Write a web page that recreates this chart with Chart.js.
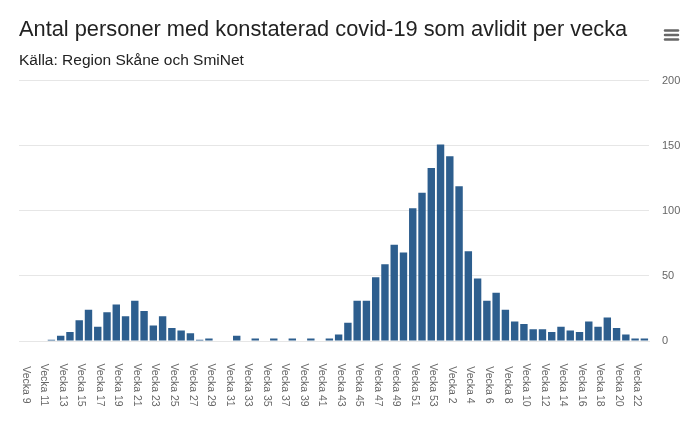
<!DOCTYPE html>
<html>
<head>
<meta charset="utf-8">
<script src="https://cdn.jsdelivr.net/npm/chart.js@4/dist/chart.umd.min.js"></script>
<style>
  body { margin: 0; background: #fff; }
  #wrap { width: 700px; height: 435px; position: relative; }
</style>
</head>
<body>
<div id="wrap"><canvas id="myChart"></canvas></div>
<script>
// veckor 2020 (9-53) och 2021 (1-23)
var weeks = [9, 10, 11, 12, 13, 14, 15, 16, 17, 18, 19, 20, 21, 22, 23, 24, 25, 26, 27, 28,
    29, 30, 31, 32, 33, 34, 35, 36, 37, 38, 39, 40, 41, 42, 43, 44, 45, 46, 47, 48, 49, 50,
    51, 52, 53, 1, 2, 3, 4, 5, 6, 7, 8, 9, 10, 11, 12, 13, 14, 15, 16, 17, 18, 19, 20, 21, 22, 23]

var deaths = [0, 0, 0, 1, 4, 7, 16, 24, 11, 22, 28, 19, 31, 23, 12, 19, 10, 8, 6, 1,
    2, 0, 0, 4, 0, 2, 0, 2, 0, 2, 0, 2, 0, 2, 5, 14, 31, 31, 49, 59, 74, 68,
    102, 114, 133, 151, 142, 119, 69, 48, 31, 37, 24, 15, 13, 9, 9, 7, 11, 8, 7, 15, 11, 18, 10, 5, 2, 2]

var yTicks = [0, 50, 100, 150, 200]

var titleText = "Antal personer med konstaterad covid-19 som avlidit per vecka"
var subtitleText = "Källa: Region Skåne och SmiNet"

var labels = weeks.map(function (w) { return "Vecka " + w })

var font = '"Liberation Sans", Arial, Helvetica, sans-serif'

// rotated category labels (top to bottom), every other week
var xLabels = {
    id: 'xLabels',
    afterDraw: function (chart) {
        var ctx = chart.ctx
        var x = chart.scales.x
        ctx.save()
        ctx.font = '10.5px ' + font
        ctx.fillStyle = '#666666'
        ctx.textAlign = 'center'
        ctx.textBaseline = 'middle'
        labels.forEach(function (l, i) {
            if (i % 2) return
            ctx.save()
            ctx.translate(x.getPixelForTick(i) + 2, chart.chartArea.bottom + 44)
            ctx.rotate(Math.PI / 2)
            ctx.fillText(l, 0, 0)
            ctx.restore()
        })
        ctx.restore()
    }
}

// export menu icon
var menuIcon = {
    id: 'menuIcon',
    afterDraw: function (chart) {
        var ctx = chart.ctx
        ctx.save()
        ctx.strokeStyle = '#666666'
        ctx.lineWidth = 2.5
        ctx.lineCap = 'round'
        ;[30.5, 35, 39.5].forEach(function (y) {
            ctx.beginPath()
            ctx.moveTo(665, y)
            ctx.lineTo(678, y)
            ctx.stroke()
        })
        ctx.restore()
    }
}

var myChart = document.getElementById("myChart").getContext('2d')

var chart = new Chart(myChart, {
    type: 'bar',
    data: {
        labels: labels,
        datasets: [
            {
                label: "Avlidna",
                data: deaths,
                backgroundColor: '#2d5e8e',
                borderWidth: 0,
                barPercentage: 0.8,
                categoryPercentage: 1
            }
        ]
    },
    options: {
        responsive: true,
        maintainAspectRatio: false,
        animation: false,
        layout: { padding: { left: 19, right: 0, top: 0, bottom: 0 } },
        plugins: {
            legend: { display: false },
            tooltip: { enabled: false },
            title: {
                display: true,
                text: titleText,
                align: 'start',
                color: '#222222',
                font: { family: font, size: 21.8, weight: 'normal' },
                padding: { top: 17, bottom: 8 }
            },
            subtitle: {
                display: true,
                text: subtitleText,
                align: 'start',
                color: '#222222',
                font: { family: font, size: 15.5, weight: 'normal' },
                padding: { top: 0, bottom: 11 }
            }
        },
        scales: {
            x: {
                grid: { display: false },
                border: { display: true, color: '#e6e6e6' },
                ticks: { display: false },
                afterFit: function (scale) { scale.height = 94 }
            },
            y: {
                position: 'right',
                min: 0,
                max: 200,
                afterBuildTicks: function (scale) {
                    scale.ticks = yTicks.map(function (v) { return { value: v } })
                },
                grid: { color: '#e6e6e6', drawTicks: false },
                border: { display: false },
                ticks: {
                    color: '#666666',
                    padding: 13,
                    font: { family: font, size: 11 }
                },
                afterFit: function (scale) { scale.width = 51 }
            }
        }
    },
    plugins: [xLabels, menuIcon]
})
</script>
</body>
</html>
